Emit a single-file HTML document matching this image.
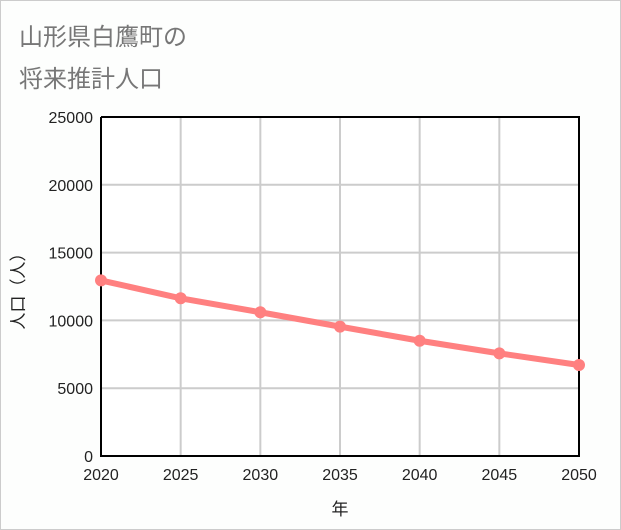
<!DOCTYPE html>
<html><head><meta charset="utf-8"><style>
body{margin:0;background:#fff}
#wrap{position:relative;width:619px;height:528px;border:1px solid #ccc;background:#fdfefd;font-family:"Liberation Sans","Noto Sans CJK JP",sans-serif}
.t{position:absolute;left:18px;font-size:24px;color:#777}
</style></head><body>
<div id="wrap">
<div class="t" style="top:16px">山形県白鷹町の</div>
<div class="t" style="top:58px">将来推計人口</div>
<svg id="c" width="621" height="530" style="position:absolute;left:-1px;top:-1px"></svg>
</div>
<script>
const years=[2020,2025,2030,2035,2040,2045,2050];
const pops=[12950,11630,10600,9540,8500,7570,6710];
const yTicks=[0,5000,10000,15000,20000,25000];
const NS="http://www.w3.org/2000/svg";
const svg=document.getElementById('c');
const L=101,R=579,T=117,B=456;
const xs=v=>L+(v-2020)/30*(R-L);
const ys=v=>B-v/25000*(B-T);
function mk(tag,attrs){const e=document.createElementNS(NS,tag);for(const k in attrs)e.setAttribute(k,attrs[k]);svg.appendChild(e);return e;}
mk('rect',{x:L,y:T,width:R-L,height:B-T,fill:'#fff'});
years.forEach(y=>{const g=mk('line',{x1:xs(y),x2:xs(y),y1:T,y2:B,stroke:'#ccc','stroke-width':2});


const t=mk('text',{x:xs(y),y:480,'text-anchor':'middle','font-size':16,fill:'#222'});t.textContent=y;

});
yTicks.forEach(v=>{const g=mk('line',{x1:L,x2:R,y1:ys(v),y2:ys(v),stroke:'#ccc','stroke-width':2});


const t=mk('text',{x:93,y:ys(v)+6,'text-anchor':'end','font-size':16,fill:'#222'});t.textContent=v;

});
const ax=mk('path',{d:`M${L},${T}V${B}H${R}V${T}H${L}`,fill:'none',stroke:'#000','stroke-width':2});


const pl=mk('polyline',{points:years.map((y,i)=>xs(y)+','+ys(pops[i])).join(' '),fill:'none',stroke:'#ff8080','stroke-width':6});


years.forEach((y,i)=>{const c=mk('circle',{cx:xs(y),cy:ys(pops[i]),r:6,fill:'#ff8080'});

});
const xt=mk('text',{x:340,y:515,'text-anchor':'middle','font-size':17,fill:'#222'});xt.textContent='年';


const yt=mk('text',{x:0,y:0,'text-anchor':'middle','font-size':17,fill:'#222',transform:'translate(24,287) rotate(-90)'});yt.textContent='人口（人）';


</script>
</body></html>
